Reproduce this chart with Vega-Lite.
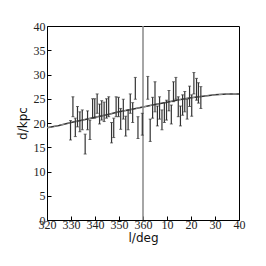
{
  "$schema": "https://vega.github.io/schema/vega-lite/v6.json",
  "autosize": "none",
  "padding": {"left": 47, "top": 26, "right": 27, "bottom": 46},
  "width": 192,
  "height": 194,
  "background": "white",
  "config": {
    "view": {"stroke": "black", "strokeWidth": 1},
    "axis": {
      "grid": false,
      "domain": false,
      "ticks": true,
      "tickColor": "black",
      "tickSize": -4,
      "labelOverlap": false,
      "labelFlush": false,
      "labelFont": "Liberation Serif",
      "labelFontSize": 12,
      "labelColor": "#222",
      "titleFont": "DejaVu Sans",
      "titleFontSize": 12,
      "titleFontWeight": "normal",
      "titleColor": "#111"
    }
  },
  "datasets": {
    "bars": [
      {"l": 329.8, "hi": 20.5, "lo": 16.5},
      {"l": 330.8, "hi": 25.4, "lo": 21.3},
      {"l": 331.8, "hi": 21.0, "lo": 17.2},
      {"l": 332.7, "hi": 23.4, "lo": 19.2},
      {"l": 333.7, "hi": 22.3, "lo": 18.2},
      {"l": 334.7, "hi": 22.7, "lo": 18.6},
      {"l": 335.9, "hi": 17.7, "lo": 13.6},
      {"l": 336.9, "hi": 22.5, "lo": 18.6},
      {"l": 337.9, "hi": 20.6, "lo": 16.6},
      {"l": 339.0, "hi": 25.0, "lo": 21.0},
      {"l": 339.9, "hi": 25.0, "lo": 21.0},
      {"l": 340.9, "hi": 26.0, "lo": 22.0},
      {"l": 341.9, "hi": 23.9, "lo": 19.8},
      {"l": 342.8, "hi": 24.6, "lo": 20.6},
      {"l": 343.8, "hi": 24.3, "lo": 20.3},
      {"l": 344.8, "hi": 25.0, "lo": 21.0},
      {"l": 345.7, "hi": 25.4, "lo": 21.3},
      {"l": 346.9, "hi": 20.1, "lo": 15.9},
      {"l": 347.8, "hi": 21.0, "lo": 17.0},
      {"l": 348.8, "hi": 25.4, "lo": 21.3},
      {"l": 349.8, "hi": 25.3, "lo": 21.3},
      {"l": 350.7, "hi": 23.0, "lo": 18.7},
      {"l": 351.8, "hi": 24.9, "lo": 20.8},
      {"l": 352.8, "hi": 21.4, "lo": 17.3},
      {"l": 353.8, "hi": 22.7, "lo": 18.6},
      {"l": 354.7, "hi": 26.0, "lo": 22.0},
      {"l": 355.7, "hi": 24.2, "lo": 20.1},
      {"l": 356.8, "hi": 29.4, "lo": 24.9},
      {"l": 357.9, "hi": 21.3, "lo": 16.8},
      {"l": 359.7, "hi": 22.0, "lo": 17.5},
      {"l": 362.0, "hi": 29.6, "lo": 24.9},
      {"l": 363.0, "hi": 20.8, "lo": 16.2},
      {"l": 364.0, "hi": 25.3, "lo": 21.0},
      {"l": 365.0, "hi": 28.5, "lo": 22.3},
      {"l": 366.0, "hi": 23.5, "lo": 19.4},
      {"l": 366.9, "hi": 25.4, "lo": 20.8},
      {"l": 367.9, "hi": 22.7, "lo": 18.6},
      {"l": 368.9, "hi": 24.2, "lo": 20.1},
      {"l": 369.8, "hi": 24.7, "lo": 20.6},
      {"l": 370.8, "hi": 26.7, "lo": 22.5},
      {"l": 371.8, "hi": 23.7, "lo": 19.8},
      {"l": 372.7, "hi": 28.5, "lo": 24.4},
      {"l": 373.7, "hi": 29.4, "lo": 24.9},
      {"l": 374.7, "hi": 25.4, "lo": 21.3},
      {"l": 375.6, "hi": 23.5, "lo": 19.4},
      {"l": 376.5, "hi": 25.8, "lo": 21.6},
      {"l": 377.4, "hi": 26.5, "lo": 22.3},
      {"l": 378.4, "hi": 24.9, "lo": 20.8},
      {"l": 379.4, "hi": 27.6, "lo": 23.4},
      {"l": 380.3, "hi": 25.8, "lo": 21.4},
      {"l": 381.2, "hi": 30.4, "lo": 26.0},
      {"l": 382.3, "hi": 29.2, "lo": 24.7},
      {"l": 383.1, "hi": 28.3, "lo": 24.1},
      {"l": 384.1, "hi": 27.5, "lo": 23.0}
    ],
    "curve": [
      {"l": 320, "d": 19.0},
      {"l": 325, "d": 19.5},
      {"l": 330, "d": 20.1},
      {"l": 335, "d": 20.6},
      {"l": 340, "d": 21.2},
      {"l": 345, "d": 21.7},
      {"l": 350, "d": 22.3},
      {"l": 355, "d": 22.8},
      {"l": 360, "d": 23.3},
      {"l": 365, "d": 23.8},
      {"l": 370, "d": 24.3},
      {"l": 375, "d": 24.8},
      {"l": 380, "d": 25.2},
      {"l": 385, "d": 25.5},
      {"l": 390, "d": 25.8},
      {"l": 395, "d": 26.0},
      {"l": 400, "d": 26.0}
    ]
  },
  "encoding": {
    "x": {
      "field": "l", "type": "quantitative",
      "scale": {"domain": [320, 400], "nice": false, "zero": false},
      "axis": {
        "values": [320, 330, 340, 350, 360, 370, 380, 390, 400],
        "labelExpr": "datum.value > 360 ? datum.value - 360 : datum.value",
        "labelOverlap": false,
        "labelFlush": false,
        "labelBound": false,
        "title": "l/deg",
        "labelPadding": 3,
        "titlePadding": 2
      }
    },
    "y": {
      "field": "d", "type": "quantitative",
      "scale": {"domain": [0, 40], "nice": false},
      "axis": {
        "values": [0, 5, 10, 15, 20, 25, 30, 35, 40],
        "labelOverlap": false,
        "labelFlush": false,
        "labelBound": false,
        "title": "d/kpc",
        "labelPadding": 6,
        "titlePadding": 4
      }
    }
  },
  "layer": [
    {
      "data": {"name": "curve"},
      "mark": {"type": "line", "color": "#333333", "strokeWidth": 1.5}
    },
    {
      "data": {"name": "curve"},
      "mark": {"type": "line", "color": "#aaaaaa", "strokeWidth": 0.8, "strokeDash": [4, 3]}
    },
    {
      "data": {"values": [{"l": 360}]},
      "mark": {"type": "rule", "color": "#888888", "strokeWidth": 1.5},
      "encoding": {"y": null}
    },
    {
      "data": {"name": "bars"},
      "mark": {"type": "rule", "color": "#333333", "strokeWidth": 1.2},
      "encoding": {
        "y": {"field": "hi", "type": "quantitative"},
        "y2": {"field": "lo"}
      }
    },
    {
      "data": {"name": "bars"},
      "mark": {"type": "tick", "orient": "horizontal", "color": "#333333", "size": 3, "thickness": 1},
      "encoding": {
        "y": {"field": "hi", "type": "quantitative"}
      }
    },
    {
      "data": {"name": "bars"},
      "mark": {"type": "tick", "orient": "horizontal", "color": "#333333", "size": 3, "thickness": 1},
      "encoding": {
        "y": {"field": "lo", "type": "quantitative"}
      }
    }
  ]
}
